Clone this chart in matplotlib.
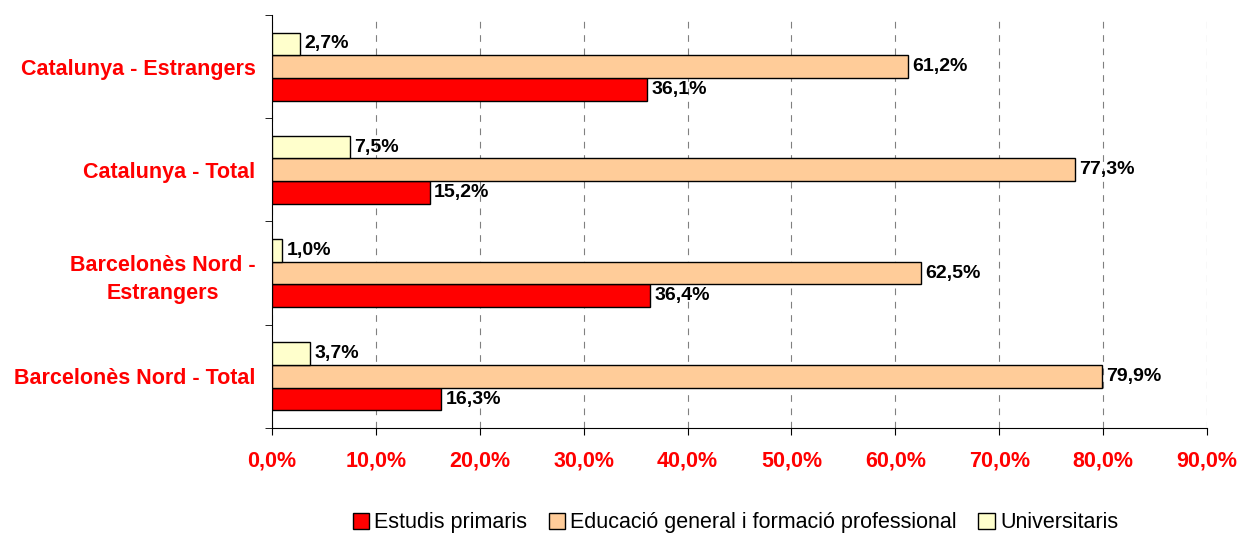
import matplotlib.pyplot as plt
import numpy as np

plt.rcParams['font.family'] = ['Liberation Sans', 'DejaVu Sans']

# Data (bottom to top)
categories = ['Barcelonès Nord - Total', 'Barcelonès Nord -\nEstrangers',
              'Catalunya - Total', 'Catalunya - Estrangers']
primaris = [16.3, 36.4, 15.2, 36.1]
educacio = [79.9, 62.5, 77.3, 61.2]
universitaris = [3.7, 1.0, 7.5, 2.7]

series = [('Estudis primaris', primaris, '#FF0000', -0.22),
          ('Educació general i formació professional', educacio, '#FFCC99', 0.0),
          ('Universitaris', universitaris, '#FFFFCC', 0.22)]

fig = plt.figure(figsize=(12.4, 5.34), dpi=100)
ax = fig.add_axes([0.2194, 0.1985, 0.7540, 0.7735])

y = np.arange(len(categories))
for name, vals, color, off in series:
    bars = ax.barh(y + off, vals, height=0.22, color=color, edgecolor='black',
                   linewidth=1, label=name, zorder=3)
    for b, v in zip(bars, vals):
        ax.annotate(f'{v:.1f}%'.replace('.', ','), (v, b.get_y() + b.get_height() / 2),
                    xytext=(3, 0), textcoords='offset points', va='center', ha='left',
                    fontsize=14, fontweight='bold', zorder=4)

ax.set_xlim(0, 90)
ax.set_ylim(-0.5, 3.5)
xt = np.arange(0, 91, 10)
ax.set_xticks(xt)
ax.set_xticklabels([f'{v:.1f}%'.replace('.', ',') for v in xt], color='red',
                   fontsize=15.5, fontweight='bold')
ax.set_yticks(y)
ax.set_yticklabels(categories, color='red', fontsize=15.5, fontweight='bold',
                   multialignment='center', linespacing=1.45)
ax.set_yticks(np.arange(-0.5, 3.6, 1), minor=True)
ax.tick_params(axis='y', which='major', length=0, pad=12)
ax.tick_params(axis='y', which='minor', length=5)
ax.tick_params(axis='x', length=5, pad=11)

ax.grid(axis='x', linestyle=(0, (6, 6)), color='gray', linewidth=0.8, zorder=0)
for s in ['top', 'right']:
    ax.spines[s].set_visible(False)

handles, labels = ax.get_legend_handles_labels()
fig.legend(handles, labels, loc='lower center', bbox_to_anchor=(0.593, -0.035), ncol=3,
           frameon=False, fontsize=15.5, handlelength=0.75, handleheight=0.75,
           handletextpad=0.25, columnspacing=1.0)

fig.savefig('out.png', dpi=100)
